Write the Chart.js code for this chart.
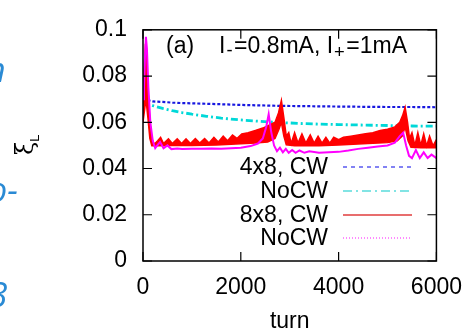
<!DOCTYPE html>
<html>
<head>
<meta charset="utf-8">
<script src="https://cdn.jsdelivr.net/npm/chart.js@4.4.1/dist/chart.umd.min.js"></script>
<style>
  body { margin: 0; background: #fff; }
  #wrap { position: relative; width: 475px; height: 331px; overflow: hidden; }
  .frag { position: absolute; font-family: "Open Sans", sans-serif; font-style: italic; color: #2a8ad4; font-size: 34px; line-height: 1; }
</style>
</head>
<body>
<div id="wrap">
  <canvas id="myChart" width="475" height="331"></canvas>
  <div class="frag" style="left:-14px; top:52px;">n</div>
  <div class="frag" style="left:-12px; top:172px;">o-</div>
  <div class="frag" style="left:-11px; top:277px;">3</div>
</div>
<script>
// 4x8, CW (blue)
const turns4cw = [0, 100, 200, 400, 600, 800, 1000, 1300, 1600, 2000, 2400, 2800, 3200, 3600, 4000, 4500, 5000, 5500, 6000];
const vals4cw = [0.0705, 0.0695, 0.069, 0.0688, 0.0685, 0.0683, 0.0682, 0.068, 0.0678, 0.0675, 0.0673, 0.0671, 0.067, 0.0669, 0.0668, 0.0667, 0.0666, 0.0666, 0.0665];

// 4x8, NoCW (cyan)
const turns4no = [0, 100, 200, 400, 600, 800, 1000, 1300, 1600, 2000, 2400, 2800, 3200, 3600, 4000, 4500, 5000, 5500, 6000];
const vals4no = [0.069, 0.068, 0.0672, 0.066, 0.065, 0.0642, 0.0635, 0.0626, 0.0618, 0.061, 0.0604, 0.0599, 0.0595, 0.0592, 0.059, 0.0588, 0.0586, 0.0584, 0.0583];

// 8x8, CW (red) - upper and lower edge of the oscillating band
const turns8cwHi = [0, 30, 50, 70, 100, 140, 180, 230, 300, 360, 420, 520, 600, 700, 790, 880, 970, 1070, 1160, 1260, 1350, 1450, 1540, 1640, 1730, 1830, 1920, 2020, 2150, 2300, 2450, 2600, 2700, 2770, 2830, 2880, 2930, 2980, 3030, 3100, 3170, 3250, 3330, 3420, 3500, 3580, 3660, 3740, 3820, 3900, 4000, 4100, 4250, 4400, 4550, 4700, 4850, 5000, 5150, 5250, 5310, 5360, 5410, 5450, 5500, 5560, 5620, 5680, 5740, 5800, 5860, 5930, 6000];
const vals8cwHi = [0.072, 0.085, 0.094, 0.09, 0.075, 0.06, 0.053, 0.0505, 0.052, 0.0535, 0.0508, 0.0528, 0.0508, 0.0528, 0.0508, 0.0528, 0.0508, 0.053, 0.051, 0.053, 0.051, 0.0535, 0.0515, 0.054, 0.052, 0.0545, 0.053, 0.055, 0.0555, 0.0565, 0.0575, 0.059, 0.06, 0.064, 0.0695, 0.062, 0.054, 0.0555, 0.0508, 0.0555, 0.051, 0.055, 0.051, 0.0545, 0.051, 0.054, 0.051, 0.0535, 0.051, 0.0535, 0.0525, 0.0535, 0.054, 0.0545, 0.055, 0.0555, 0.0565, 0.057, 0.058, 0.06, 0.063, 0.0665, 0.06, 0.053, 0.0555, 0.05, 0.0555, 0.05, 0.055, 0.0498, 0.054, 0.0498, 0.0525];
const turns8cwLo = [0, 30, 60, 100, 140, 180, 300, 600, 1000, 1500, 2000, 2300, 2550, 2700, 2780, 2830, 2880, 2930, 3100, 3600, 4000, 4500, 5000, 5200, 5300, 5360, 5420, 5480, 5700, 6000];
const vals8cwLo = [0.06, 0.065, 0.07, 0.062, 0.053, 0.0498, 0.0498, 0.05, 0.05, 0.0502, 0.0507, 0.051, 0.0515, 0.053, 0.057, 0.06, 0.054, 0.0503, 0.0498, 0.0498, 0.0502, 0.0507, 0.0512, 0.052, 0.054, 0.058, 0.052, 0.0492, 0.049, 0.049];

// 8x8, NoCW (magenta)
const turns8no = [0, 20, 40, 60, 80, 110, 150, 200, 250, 300, 350, 420, 500, 580, 700, 800, 1000, 1200, 1400, 1600, 1800, 2000, 2200, 2350, 2450, 2520, 2570, 2620, 2680, 2740, 2800, 2860, 2920, 2980, 3050, 3120, 3200, 3300, 3400, 3600, 3800, 4000, 4200, 4400, 4600, 4800, 5000, 5150, 5250, 5320, 5380, 5440, 5500, 5580, 5660, 5740, 5820, 5900, 6000];
const vals8no = [0.07, 0.075, 0.088, 0.097, 0.092, 0.075, 0.06, 0.052, 0.0488, 0.0502, 0.0515, 0.0488, 0.05, 0.0484, 0.0487, 0.0484, 0.0486, 0.0485, 0.0487, 0.0486, 0.0488, 0.049, 0.0497, 0.0508, 0.053, 0.058, 0.0635, 0.056, 0.05, 0.0475, 0.049, 0.047, 0.0485, 0.0468, 0.048, 0.0468, 0.0478, 0.0468, 0.0475, 0.0468, 0.047, 0.0472, 0.0478, 0.0485, 0.049, 0.0495, 0.05, 0.0512, 0.054, 0.0555, 0.05, 0.0455, 0.0445, 0.048, 0.0445, 0.047, 0.0445, 0.046, 0.0445];

const xTickLabels = ["0", "2000", "4000", "6000"];
const yTickLabels = ["0", "0.02", "0.04", "0.06", "0.08", "0.1"];
const legendLabels = ["4x8, CW", "NoCW", "8x8, CW", "NoCW"];
const legendColors = ["rgb(90,90,240)", "rgb(90,220,220)", "rgb(225,60,60)", "rgb(255,100,255)"];
const legendDashes = [[4, 4], [9, 4, 2, 4], [], [1, 2]];

const FONT = "Liberation Sans, Arial, Helvetica, sans-serif";
const FS = 23;

function pts(xs, ys) {
  return xs.map((x, i) => ({ x: x, y: ys[i] }));
}

// gnuplot-like frame, inward ticks, key and labels
const gnuplotDecor = {
  id: "gnuplotDecor",
  afterDraw(chart) {
    const ctx = chart.ctx;
    const a = chart.chartArea;
    const xs = chart.scales.x;
    const ys = chart.scales.y;
    ctx.save();

    ctx.strokeStyle = "#000";
    ctx.lineWidth = 1.5;
    ctx.strokeRect(a.left, a.top, a.right - a.left, a.bottom - a.top);

    ctx.lineWidth = 1.2;
    const tl = 9;
    ys.ticks.forEach((t) => {
      const py = ys.getPixelForValue(t.value);
      ctx.beginPath();
      ctx.moveTo(a.left, py); ctx.lineTo(a.left + tl, py);
      ctx.moveTo(a.right, py); ctx.lineTo(a.right - tl, py);
      ctx.stroke();
    });
    xs.ticks.forEach((t) => {
      const px = xs.getPixelForValue(t.value);
      ctx.beginPath();
      ctx.moveTo(px, a.bottom); ctx.lineTo(px, a.bottom - tl);
      ctx.moveTo(px, a.top); ctx.lineTo(px, a.top + tl);
      ctx.stroke();
    });

    // key samples
    const keyY = [167, 191, 215, 238];
    legendLabels.forEach((lab, i) => {
      ctx.beginPath();
      ctx.strokeStyle = legendColors[i];
      ctx.lineWidth = 1.5;
      ctx.setLineDash(legendDashes[i]);
      ctx.moveTo(343, keyY[i]);
      ctx.lineTo(412, keyY[i]);
      ctx.stroke();
    });
    ctx.setLineDash([]);

    // key text
    ctx.fillStyle = "#000";
    ctx.font = FS + "px " + FONT;
    ctx.textAlign = "right";
    ctx.textBaseline = "middle";
    legendLabels.forEach((lab, i) => {
      ctx.fillText(lab, 328, keyY[i] + 1);
    });

    // title inside the plot
    ctx.textBaseline = "alphabetic";
    ctx.textAlign = "left";
    ctx.font = FS + "px " + FONT;
    ctx.fillText("(a)", 166, 53);
    const parts = [
      ["I", 1, 0], ["-", 0.8, 3], ["=0.8mA, I", 1, 0], ["+", 0.8, 5], ["=1mA", 1, 0]
    ];
    let x = 219;
    parts.forEach(([txt, s, dy]) => {
      ctx.font = (FS * s) + "px " + FONT;
      ctx.fillText(txt, x, 53 + dy);
      x += ctx.measureText(txt).width + (s < 1 ? 1.5 : 1);
    });

    // y axis label, rotated
    ctx.translate(31, 143);
    ctx.rotate(-Math.PI / 2);
    ctx.font = "24px DejaVu Serif, serif";
    const w = ctx.measureText("\u03BE").width;
    ctx.fillText("\u03BE", -12, 2);
    ctx.font = "13px " + FONT;
    ctx.fillText("L", -12 + w, 8);
    ctx.restore();
  }
};

const ctx = document.getElementById("myChart").getContext("2d");
new Chart(ctx, {
  type: "line",
  data: {
    datasets: [
      {
        label: "8x8, NoCW",
        data: pts(turns8no, vals8no),
        borderColor: "#ff00ff",
        borderWidth: 2
      },
      {
        label: "8x8, CW",
        data: pts(turns8cwHi, vals8cwHi),
        borderColor: "#ff0000",
        backgroundColor: "#ff0000",
        borderWidth: 1.5,
        fill: "+1"
      },
      {
        label: "8x8, CW low",
        data: pts(turns8cwLo, vals8cwLo),
        borderColor: "#ff0000",
        borderWidth: 1.5
      },
      {
        label: "4x8, NoCW",
        data: pts(turns4no, vals4no),
        borderColor: "#00d8d8",
        borderWidth: 2.8,
        borderDash: [7, 3, 2, 3]
      },
      {
        label: "4x8, CW",
        data: pts(turns4cw, vals4cw),
        borderColor: "#1818e0",
        borderWidth: 2.2,
        borderDash: [3, 2]
      }
    ]
  },
  options: {
    responsive: false,
    animation: false,
    layout: { padding: { top: 20, right: 32, left: 0, bottom: 0 } },
    elements: { point: { radius: 0 }, line: { tension: 0 } },
    plugins: { legend: { display: false }, tooltip: { enabled: false }, title: { display: false } },
    scales: {
      x: {
        type: "linear",
        min: 0,
        max: 6000,
        ticks: {
          stepSize: 2000,
          padding: 13,
          color: "#000",
          font: { family: FONT, size: FS },
          callback: (v, i) => xTickLabels[i]
        },
        grid: { display: false, drawTicks: false },
        border: { display: false },
        title: { display: true, text: "turn", color: "#000", font: { family: FONT, size: FS, lineHeight: 0.8 }, padding: { top: 0, bottom: 0 } },
        afterFit: (scale) => { scale.height = 70; }
      },
      y: {
        type: "linear",
        min: 0,
        max: 0.1,
        ticks: {
          stepSize: 0.02,
          padding: 16,
          color: "#000",
          font: { family: FONT, size: FS },
          callback: (v, i) => yTickLabels[i]
        },
        grid: { display: false, drawTicks: false },
        border: { display: false },
        afterFit: (scale) => { scale.width = 143; }
      }
    }
  },
  plugins: [gnuplotDecor]
});
</script>
</body>
</html>
